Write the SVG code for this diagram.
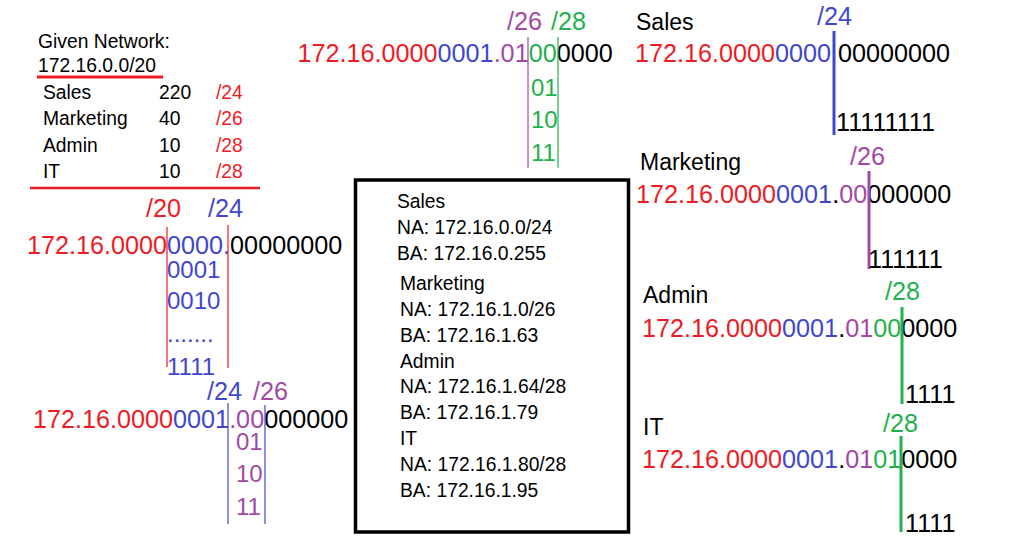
<svg xmlns="http://www.w3.org/2000/svg" width="1016" height="543" viewBox="0 0 1016 543">
<style>
text{font-family:"Liberation Sans",Arial,sans-serif;fill:#000}
.s19{font-size:19.3px}
.s23{font-size:23px}
.b{font-size:25.2px}
.sub{font-size:24px}
.r{fill:#ED1C24}
.bl{fill:#3F48CC}
.p{fill:#A349A4}
.g{fill:#22B14C}
.k{fill:#000}
.thin{stroke-width:1.2;fill:none}
.thick{stroke-width:3;fill:none}
</style>
<rect width="1016" height="543" fill="#fff"/>

<g id="given">
<text class="s19" x="38" y="48">Given Network:</text>
<text class="s19" x="38" y="72">172.16.0.0/20</text>
<line x1="37" y1="77" x2="163" y2="77" stroke="#ED1C24" stroke-width="3"/>
<text class="s19" x="43" y="99">Sales</text><text class="s19" x="159" y="99">220</text><text class="s19 r" x="216" y="99">/24</text>
<text class="s19" x="43" y="125">Marketing</text><text class="s19" x="159" y="125">40</text><text class="s19 r" x="216" y="125">/26</text>
<text class="s19" x="43" y="152">Admin</text><text class="s19" x="159" y="152">10</text><text class="s19 r" x="216" y="152">/28</text>
<text class="s19" x="43" y="178">IT</text><text class="s19" x="159" y="178">10</text><text class="s19 r" x="216" y="178">/28</text>
<line x1="30" y1="188" x2="260" y2="188" stroke="#ED1C24" stroke-width="2.5"/>
</g>

<g id="split24">
<text class="b r" x="146" y="217">/20</text>
<text class="b bl" x="208" y="217">/24</text>
<text class="b" x="27" y="254"><tspan class="r">172.16.0000</tspan><tspan class="bl">0000.</tspan><tspan class="k">00000000</tspan></text>
<line class="thin" x1="167" y1="227" x2="167" y2="367" stroke="#ED1C24"/>
<line class="thin" x1="228" y1="225" x2="228" y2="368" stroke="#ED1C24"/>
<text class="sub bl" x="167" y="278">0001</text>
<text class="sub bl" x="167" y="309">0010</text>
<text class="sub bl" x="167" y="342">.......</text>
<text class="sub bl" x="167" y="375">1111</text>
</g>

<g id="split26">
<text class="b bl" x="207" y="400">/24</text>
<text class="b p" x="253" y="400">/26</text>
<text class="b" x="33" y="428"><tspan class="r">172.16.0000</tspan><tspan class="bl">0001</tspan><tspan class="p">.00</tspan><tspan class="k">000000</tspan></text>
<line class="thin" x1="228" y1="403" x2="228" y2="524" stroke="#3F48CC"/>
<line class="thin" x1="265" y1="405" x2="265" y2="524" stroke="#3F48CC"/>
<text class="sub p" x="236" y="450">01</text>
<text class="sub p" x="236" y="482">10</text>
<text class="sub p" x="236" y="515">11</text>
</g>

<g id="split28">
<text class="b p" x="507" y="30">/26</text>
<text class="b g" x="551" y="30">/28</text>
<text class="b" x="297.5" y="62"><tspan class="r">172.16.0000</tspan><tspan class="bl">0001</tspan><tspan class="p">.01</tspan><tspan class="g">00</tspan><tspan class="k">0000</tspan></text>
<line class="thin" x1="528" y1="37" x2="528" y2="168" stroke="#A349A4"/>
<line class="thin" x1="558" y1="37" x2="558" y2="168" stroke="#22B14C"/>
<text class="sub g" x="531" y="96">01</text>
<text class="sub g" x="531" y="128">10</text>
<text class="sub g" x="531" y="161">11</text>
</g>

<g id="summary">
<rect x="355.5" y="180" width="273" height="352" fill="none" stroke="#000" stroke-width="3.5"/>
<text class="s19" x="397" y="208">Sales</text>
<text class="s19" x="397" y="234">NA: 172.16.0.0/24</text>
<text class="s19" x="397" y="260">BA: 172.16.0.255</text>
<text class="s19" x="400" y="290">Marketing</text>
<text class="s19" x="400" y="316">NA: 172.16.1.0/26</text>
<text class="s19" x="400" y="342">BA: 172.16.1.63</text>
<text class="s19" x="400" y="368">Admin</text>
<text class="s19" x="400" y="393">NA: 172.16.1.64/28</text>
<text class="s19" x="400" y="419">BA: 172.16.1.79</text>
<text class="s19" x="400" y="445">IT</text>
<text class="s19" x="400" y="471">NA: 172.16.1.80/28</text>
<text class="s19" x="400" y="497">BA: 172.16.1.95</text>
</g>

<g id="sales">
<text class="s23" x="636" y="30">Sales</text>
<text class="b bl" x="817" y="25">/24</text>
<text class="b" x="635" y="62"><tspan class="r">172.16.0000</tspan><tspan class="bl">0000</tspan></text>
<text class="b" x="838" y="62">00000000</text>
<line class="thick" x1="834" y1="31" x2="834" y2="135" stroke="#3F48CC"/>
<text class="b" x="836" y="131">11111111</text>
</g>

<g id="marketing">
<text class="s23" x="640" y="170">Marketing</text>
<text class="b p" x="850" y="165">/26</text>
<text class="b" x="636" y="203"><tspan class="r">172.16.0000</tspan><tspan class="bl">0001</tspan><tspan class="k">.</tspan><tspan class="p">00</tspan><tspan class="k">000000</tspan></text>
<line class="thick" x1="869" y1="171" x2="869" y2="269" stroke="#A349A4"/>
<text class="b" x="868" y="268">111111</text>
</g>

<g id="admin">
<text class="s23" x="643" y="303">Admin</text>
<text class="b g" x="885" y="300">/28</text>
<text class="b" x="642" y="337"><tspan class="r">172.16.0000</tspan><tspan class="bl">0001</tspan><tspan class="k">.</tspan><tspan class="p">01</tspan><tspan class="g">00</tspan><tspan class="k">0000</tspan></text>
<line class="thick" x1="902" y1="307" x2="902" y2="404" stroke="#22B14C"/>
<text class="b" x="905" y="403">1111</text>
</g>

<g id="it">
<text class="s23" x="643" y="435">IT</text>
<text class="b g" x="883" y="432">/28</text>
<text class="b" x="642" y="468"><tspan class="r">172.16.0000</tspan><tspan class="bl">0001</tspan><tspan class="k">.</tspan><tspan class="p">01</tspan><tspan class="g">01</tspan><tspan class="k">0000</tspan></text>
<line class="thick" x1="901" y1="436" x2="901" y2="532" stroke="#22B14C"/>
<text class="b" x="905" y="532">1111</text>
</g>
</svg>
